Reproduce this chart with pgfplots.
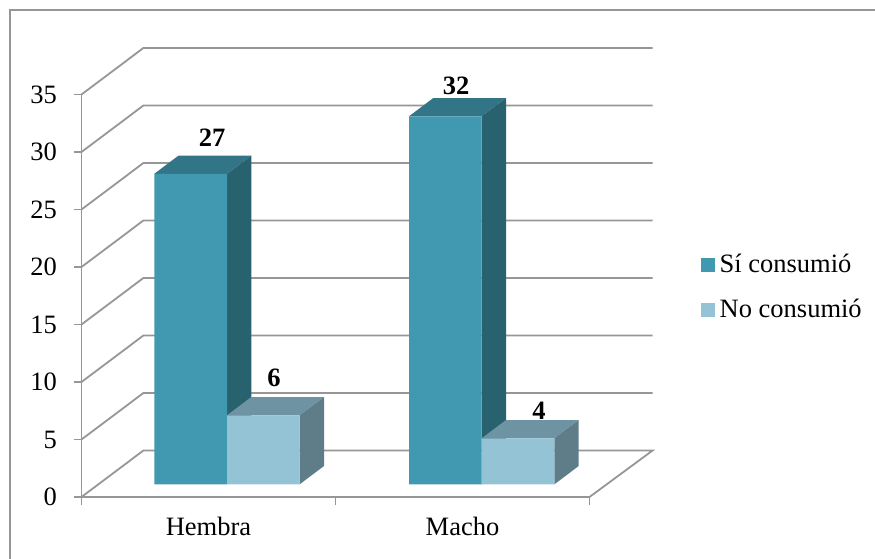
\documentclass[border=0pt]{standalone}
\usepackage{fontspec}
\setmainfont{Liberation Serif}
\usepackage{pgfplots}
\pgfplotsset{compat=1.18}
\definecolor{gridgray}{HTML}{969696}
\definecolor{siFront}{HTML}{4198B1}
\definecolor{siTop}{HTML}{317587}
\definecolor{siSide}{HTML}{28626F}
\definecolor{noFront}{HTML}{93C3D5}
\definecolor{noTop}{HTML}{6E93A3}
\definecolor{noSide}{HTML}{5E7D89}
\newcommand{\chartfont}{\fontsize{26.5}{30}\selectfont}
\begin{document}
\begin{tikzpicture}[x=1pt,y=1pt]
\useasboundingbox (0,0) rectangle (875,559);
% outer chart frame, open on the right and at the bottom
\draw[gridgray,line width=2pt] (9.5,0) -- (9.5,548.5) -- (875,548.5);
\begin{axis}[
  at={(81.5pt,62pt)}, anchor=south west,
  scale only axis, width=508pt, height=402.5pt,
  xmin=0, xmax=508, ymin=0, ymax=35,
  clip=false,
  axis x line*=bottom, axis y line*=left,
  axis line style={gridgray,line width=1.8pt,-},
  tick style={gridgray,line width=1.8pt},
  tick align=outside, major tick length=8pt,
  xtick={0,254,508}, x tick label as interval,
  xticklabels={Hembra,Macho},
  ytick={0,5,...,35},
  tick label style={font=\chartfont},
  /pgf/number format/assume math mode=true,
  yticklabel style={xshift=-13pt},
  xticklabel style={yshift=-9pt},
  legend cell align=left,
  legend style={at={(axis cs:619.5,21.28)},anchor=north west,draw=none,fill=none,
    font=\chartfont,row sep=21pt,inner sep=0pt},
]
% back walls and floor: one rule for each major value
\pgfplotsset{
  rule/.style={gridgray,line width=1.8pt,no markers,forget plot},
  face/.style={draw=none,no markers,forget plot,yshift=12.7pt},
  front/.style={ybar,bar width=72.7pt,bar shift=0pt,draw=none,yshift=12.7pt,fill=#1,
    legend image code/.code={\fill[#1] (0pt,-20.5pt) rectangle (14pt,-6.5pt);}},
}
\addplot[rule] coordinates {(0,0)(62,4.05)(571.2,4.05)(508,0)};
\addplot[rule] coordinates {(0,5)(62,9.05)(571.2,9.05)};
\addplot[rule] coordinates {(0,10)(62,14.05)(571.2,14.05)};
\addplot[rule] coordinates {(0,15)(62,19.05)(571.2,19.05)};
\addplot[rule] coordinates {(0,20)(62,24.05)(571.2,24.05)};
\addplot[rule] coordinates {(0,25)(62,29.05)(571.2,29.05)};
\addplot[rule] coordinates {(0,30)(62,34.05)(571.2,34.05)};
\addplot[rule] coordinates {(0,35)(62,39.05)(571.2,39.05)};

% Sí consumió: top and side faces, then the front faces
\addplot[face,fill=siTop] coordinates {(72.8,27)(145.5,27)(169.8,28.59)(97.1,28.59)} -- cycle;
\addplot[face,fill=siSide] coordinates {(145.5,0)(169.8,1.59)(169.8,28.59)(145.5,27)} -- cycle;
\addplot[face,fill=siTop] coordinates {(327.5,32)(400.2,32)(424.5,33.59)(351.8,33.59)} -- cycle;
\addplot[face,fill=siSide] coordinates {(400.2,0)(424.5,1.59)(424.5,33.59)(400.2,32)} -- cycle;
\addplot[front=siFront] coordinates {(109.15,27)(363.85,32)};
\addlegendentry{\hspace{2.5pt}Sí consumió}

% No consumió: top and side faces, then the front faces
\addplot[face,fill=noTop] coordinates {(145.5,6)(218.2,6)(242.5,7.59)(169.8,7.59)} -- cycle;
\addplot[face,fill=noSide] coordinates {(218.2,0)(242.5,1.59)(242.5,7.59)(218.2,6)} -- cycle;
\addplot[face,fill=noTop] coordinates {(400.2,4)(472.9,4)(497.2,5.59)(424.5,5.59)} -- cycle;
\addplot[face,fill=noSide] coordinates {(472.9,0)(497.2,1.59)(497.2,5.59)(472.9,4)} -- cycle;
\addplot[front=noFront] coordinates {(181.85,6)(436.55,4)};
\addlegendentry{\hspace{2.5pt}No consumió}

% value labels above the bars
\node[anchor=base,font=\chartfont\bfseries,inner sep=0pt] at (axis cs:130.5,30.46) {27};
\node[anchor=base,font=\chartfont\bfseries,inner sep=0pt] at (axis cs:374.5,34.96) {32};
\node[anchor=base,font=\chartfont\bfseries,inner sep=0pt] at (axis cs:192.5,9.65) {6};
\node[anchor=base,font=\chartfont\bfseries,inner sep=0pt] at (axis cs:457.5,6.78) {4};
\end{axis}
\end{tikzpicture}
\end{document}
